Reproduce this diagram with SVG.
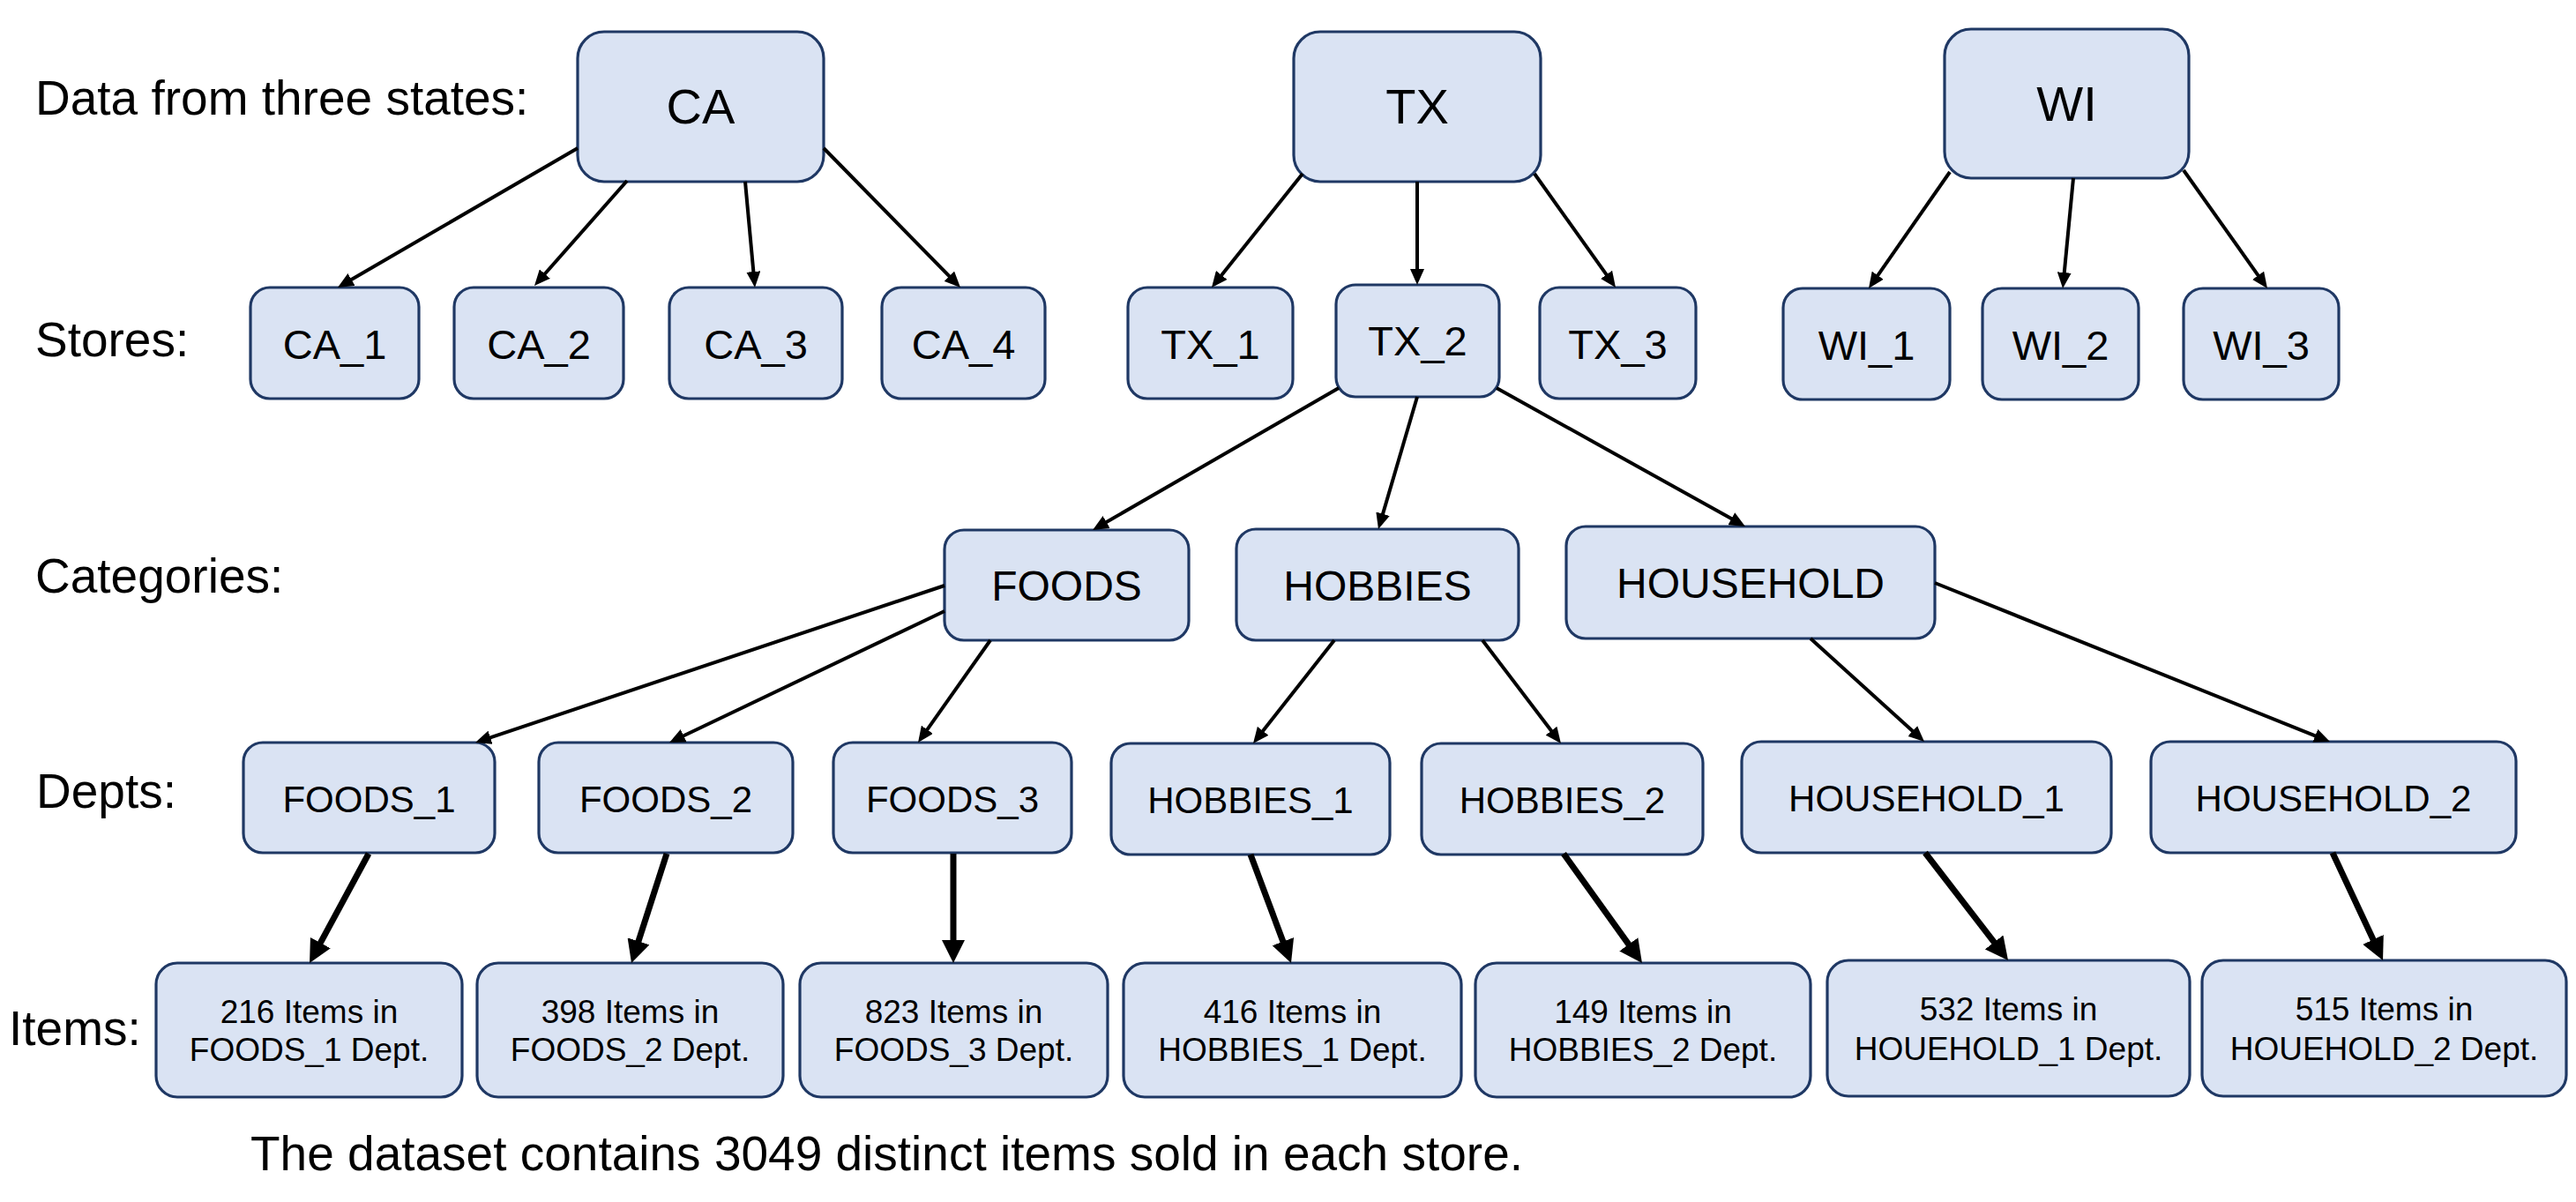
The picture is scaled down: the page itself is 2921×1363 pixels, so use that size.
<svg xmlns="http://www.w3.org/2000/svg" width="2921" height="1363" viewBox="0 0 2921 1363">
<style>
.bg{fill:#ffffff}
.box{fill:#dae3f3;stroke:#1f3864;stroke-width:3.2}
.t{font-family:"Liberation Sans",Arial,Helvetica,sans-serif;fill:#000;text-anchor:middle}
.s{font-size:56px}
.st{font-size:47px}
.c{font-size:48px}
.d{font-size:42px}
.i{font-size:37px}
.lbl{font-family:"Liberation Sans",Arial,Helvetica,sans-serif;fill:#000;font-size:55px}
.thin{fill:none;stroke:#000;stroke-width:4;marker-end:url(#ah)}
.thick{fill:none;stroke:#000;stroke-width:7;marker-end:url(#ahb)}
</style>
<defs>
<marker id="ah" markerUnits="userSpaceOnUse" viewBox="0 0 18 16" markerWidth="18" markerHeight="16" refX="8" refY="8" orient="auto"><path d="M0,0 L18,8 L0,16 z" fill="#000"/></marker>
<marker id="ahb" markerUnits="userSpaceOnUse" viewBox="0 0 26 26" markerWidth="26" markerHeight="26" refX="12" refY="13" orient="auto"><path d="M0,0 L26,13 L0,26 z" fill="#000"/></marker>
</defs>
<rect class="bg" x="0" y="0" width="2921" height="1363"/>

<g id="labels">
<text class="lbl" x="40" y="130">Data from three states:</text>
<text class="lbl" x="40" y="404">Stores:</text>
<text class="lbl" x="40" y="672">Categories:</text>
<text class="lbl" x="41" y="916">Depts:</text>
<text class="lbl" x="10" y="1185">Items:</text>
<text class="lbl" x="284" y="1327">The dataset contains 3049 distinct items sold in each store.</text>
</g>

<g id="node-CA"><rect class="box" x="655" y="36" width="279" height="170" rx="30"/><text class="t s" x="794.5" y="140">CA</text></g>
<g id="node-TX"><rect class="box" x="1467" y="36" width="280" height="170" rx="30"/><text class="t s" x="1607" y="140">TX</text></g>
<g id="node-WI"><rect class="box" x="2205" y="33" width="277" height="169" rx="30"/><text class="t s" x="2343.5" y="137">WI</text></g>

<g id="node-CA_1"><rect class="box" x="284" y="326" width="191" height="126" rx="22"/><text class="t st" x="379.5" y="407">CA_1</text></g>
<g id="node-CA_2"><rect class="box" x="515" y="326" width="192" height="126" rx="22"/><text class="t st" x="611" y="407">CA_2</text></g>
<g id="node-CA_3"><rect class="box" x="759" y="326" width="196" height="126" rx="22"/><text class="t st" x="857" y="407">CA_3</text></g>
<g id="node-CA_4"><rect class="box" x="1000" y="326" width="185" height="126" rx="22"/><text class="t st" x="1092.5" y="407">CA_4</text></g>
<g id="node-TX_1"><rect class="box" x="1279" y="326" width="187" height="126" rx="22"/><text class="t st" x="1372.5" y="407">TX_1</text></g>
<g id="node-TX_2"><rect class="box" x="1515" y="323" width="185" height="127" rx="22"/><text class="t st" x="1607.5" y="403">TX_2</text></g>
<g id="node-TX_3"><rect class="box" x="1746" y="326" width="177" height="126" rx="22"/><text class="t st" x="1834.5" y="407">TX_3</text></g>
<g id="node-WI_1"><rect class="box" x="2022" y="327" width="189" height="126" rx="22"/><text class="t st" x="2116.5" y="408">WI_1</text></g>
<g id="node-WI_2"><rect class="box" x="2248" y="327" width="177" height="126" rx="22"/><text class="t st" x="2336.5" y="408">WI_2</text></g>
<g id="node-WI_3"><rect class="box" x="2476" y="327" width="176" height="126" rx="22"/><text class="t st" x="2564" y="408">WI_3</text></g>

<g id="node-FOODS"><rect class="box" x="1071" y="601" width="277" height="125" rx="22"/><text class="t c" x="1209.5" y="681">FOODS</text></g>
<g id="node-HOBBIES"><rect class="box" x="1402" y="600" width="320" height="126" rx="22"/><text class="t c" x="1562" y="681">HOBBIES</text></g>
<g id="node-HOUSEHOLD"><rect class="box" x="1776" y="597" width="418" height="127" rx="22"/><text class="t c" x="1985" y="678">HOUSEHOLD</text></g>

<g id="node-FOODS_1"><rect class="box" x="276" y="842" width="285" height="125" rx="22"/><text class="t d" x="418.5" y="921">FOODS_1</text></g>
<g id="node-FOODS_2"><rect class="box" x="611" y="842" width="288" height="125" rx="22"/><text class="t d" x="755" y="921">FOODS_2</text></g>
<g id="node-FOODS_3"><rect class="box" x="945" y="842" width="270" height="125" rx="22"/><text class="t d" x="1080" y="921">FOODS_3</text></g>
<g id="node-HOBBIES_1"><rect class="box" x="1260" y="843" width="316" height="126" rx="22"/><text class="t d" x="1418" y="922">HOBBIES_1</text></g>
<g id="node-HOBBIES_2"><rect class="box" x="1612" y="843" width="319" height="126" rx="22"/><text class="t d" x="1771.5" y="922">HOBBIES_2</text></g>
<g id="node-HOUSEHOLD_1"><rect class="box" x="1975" y="841" width="419" height="126" rx="22"/><text class="t d" x="2184.5" y="920">HOUSEHOLD_1</text></g>
<g id="node-HOUSEHOLD_2"><rect class="box" x="2439" y="841" width="414" height="126" rx="22"/><text class="t d" x="2646" y="920">HOUSEHOLD_2</text></g>

<g id="node-items_FOODS_1"><rect class="box" x="177" y="1092" width="347" height="152" rx="24"/><text class="t i" x="350.5" y="1160">216 Items in</text><text class="t i" x="350.5" y="1203">FOODS_1 Dept.</text></g>
<g id="node-items_FOODS_2"><rect class="box" x="541" y="1092" width="347" height="152" rx="24"/><text class="t i" x="714.5" y="1160">398 Items in</text><text class="t i" x="714.5" y="1203">FOODS_2 Dept.</text></g>
<g id="node-items_FOODS_3"><rect class="box" x="907" y="1092" width="349" height="152" rx="24"/><text class="t i" x="1081.5" y="1160">823 Items in</text><text class="t i" x="1081.5" y="1203">FOODS_3 Dept.</text></g>
<g id="node-items_HOBBIES_1"><rect class="box" x="1274" y="1092" width="383" height="152" rx="24"/><text class="t i" x="1465.5" y="1160">416 Items in</text><text class="t i" x="1465.5" y="1203">HOBBIES_1 Dept.</text></g>
<g id="node-items_HOBBIES_2"><rect class="box" x="1673" y="1092" width="380" height="152" rx="24"/><text class="t i" x="1863" y="1160">149 Items in</text><text class="t i" x="1863" y="1203">HOBBIES_2 Dept.</text></g>
<g id="node-items_HOUSEHOLD_1"><rect class="box" x="2072" y="1089" width="411" height="154" rx="24"/><text class="t i" x="2277.5" y="1157">532 Items in</text><text class="t i" x="2277.5" y="1202">HOUEHOLD_1 Dept.</text></g>
<g id="node-items_HOUSEHOLD_2"><rect class="box" x="2497" y="1089" width="413" height="154" rx="24"/><text class="t i" x="2703.5" y="1157">515 Items in</text><text class="t i" x="2703.5" y="1202">HOUEHOLD_2 Dept.</text></g>

<g id="connectors">
<path class="thin" d="M655,168 L391.6,321"/>
<path class="thin" d="M711,205 L612.6,316.5"/>
<path class="thin" d="M845,206 L855.1,316"/>
<path class="thin" d="M934,168 L1082,318.9"/>
<path class="thin" d="M1477,197 L1380.2,318.2"/>
<path class="thin" d="M1607,206 L1607,313"/>
<path class="thin" d="M1740,197 L1826.2,317.9"/>
<path class="thin" d="M2211,195 L2124.7,318.8"/>
<path class="thin" d="M2351,202 L2340,317"/>
<path class="thin" d="M2476,193 L2565.2,318.8"/>
<path class="thin" d="M1518,440 L1247.7,596"/>
<path class="thin" d="M1607,450 L1565.8,590.4"/>
<path class="thin" d="M1697,440 L1970.3,592.1"/>
<path class="thin" d="M1071,664 L548.5,838.8"/>
<path class="thin" d="M1071,693 L768,837.7"/>
<path class="thin" d="M1123,726 L1046.8,833.8"/>
<path class="thin" d="M1513,726 L1427.2,835.1"/>
<path class="thin" d="M1681,726 L1763.9,835"/>
<path class="thin" d="M2053,724 L2174.6,834.3"/>
<path class="thin" d="M2194,661 L2632.7,837.3"/>
<path class="thick" d="M418,968 L357.7,1079.7"/>
<path class="thick" d="M756,968 L720.3,1078.7"/>
<path class="thick" d="M1081,968 L1081,1078"/>
<path class="thick" d="M1418,969 L1459.1,1078.9"/>
<path class="thick" d="M1773,968 L1853.8,1080.6"/>
<path class="thick" d="M2183,967 L2268.5,1077.9"/>
<path class="thick" d="M2645,967 L2696.1,1076.3"/>
</g>
</svg>
